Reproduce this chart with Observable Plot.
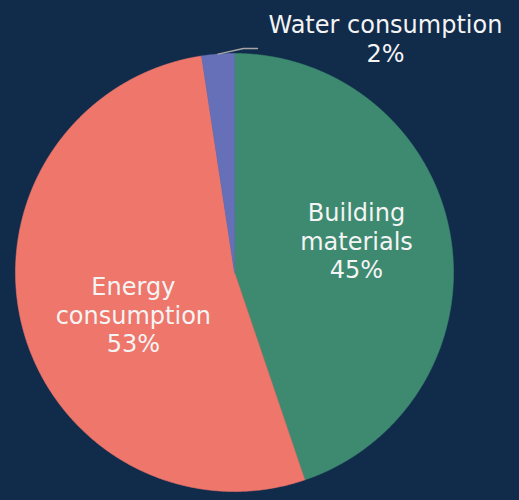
<!DOCTYPE html>
<html>
<head>
<meta charset="utf-8">
<script src="https://cdn.jsdelivr.net/npm/d3@7"></script>
<script src="https://cdn.jsdelivr.net/npm/@observablehq/plot@0.6"></script>
<style>
  html, body { margin: 0; padding: 0; background: #112b4b; }
  #chart { width: 519px; height: 500px; }
</style>
</head>
<body>
<div id="chart"></div>
<script>
// ---- data ----
const categories = ["Building materials", "Energy consumption", "Water consumption"];
const shares = [44.8, 52.8, 2.4];
const labelText = ["Building\nmaterials", "Energy\nconsumption", "Water consumption"];
const colors = ["#3d8a70", "#ee766b", "#6670b8"];

// ---- geometry from the values (angle from 12 o'clock, clockwise) ----
const total = d3.sum(shares);
const pie = d3.pie().sort(null).value(d => d)(shares);
const toXY = (a, r) => [r * Math.sin(a), r * Math.cos(a)];

const wedgePts = [];
pie.forEach((p, i) => {
  wedgePts.push({cat: categories[i], x: 0, y: 0});
  const n = Math.max(4, Math.ceil((p.endAngle - p.startAngle) / 0.005));
  for (let k = 0; k <= n; k++) {
    const a = p.startAngle + (p.endAngle - p.startAngle) * k / n;
    const [x, y] = toXY(a, 1);
    wedgePts.push({cat: categories[i], x, y});
  }
  wedgePts.push({cat: categories[i], x: 0, y: 0});
});

const pctLabel = i => `${Math.round(shares[i] / total * 100)}%`;
const mid = i => (pie[i].startAngle + pie[i].endAngle) / 2;

const inside = [0, 1].map(i => {
  const [x, y] = toXY(mid(i), 0.56);
  return {x, y, text: labelText[i] + "\n" + pctLabel(i), i};
});

// Water label with leader line
const wi = 2;
const [sx, sy] = toXY(mid(wi), 1.0);
const leader = [
  {x: sx, y: sy},
  {x: sx + 0.116, y: 1.023},
  {x: sx + 0.18, y: 1.023}
];
const waterLabel = [{x: sx + 0.18, y: 1.0, text: labelText[wi] + "\n" + pctLabel(wi)}];

const font = "DejaVu Sans";

const chart = Plot.plot({
  width: 519,
  height: 500,
  marginLeft: 15,
  marginRight: 66,
  marginTop: 53,
  marginBottom: 9,
  x: {domain: [-1, 1], axis: null},
  y: {domain: [-1, 1], axis: null},
  color: {domain: categories, range: colors},
  style: {background: "transparent", fontFamily: font},
  marks: [
    Plot.line(wedgePts, {x: "x", y: "y", z: "cat", fill: "cat", stroke: "cat", strokeWidth: 0.6, curve: "linear"}),
    Plot.line(leader, {x: "x", y: "y", stroke: "#a6a6a6", strokeWidth: 1.5}),
    Plot.text(inside.filter(d => d.i === 0), {x: "x", y: "y", text: "text", fill: "#f4f4f4", fontSize: 24, lineHeight: 1.17, dx: 1, dy: -12, fontFamily: font}),
    Plot.text(inside.filter(d => d.i === 1), {x: "x", y: "y", text: "text", fill: "#f4f4f4", fontSize: 24, lineHeight: 1.17, dx: 18, dy: 13, fontFamily: font}),
    Plot.text(waterLabel, {x: "x", y: "y", text: "text", fill: "#f4f4f4", fontSize: 24, lineHeight: 1.2, dx: 128, dy: -15, fontFamily: font})
  ]
});
chart.style.overflow = "visible";
document.getElementById("chart").appendChild(chart);
</script>
</body>
</html>
